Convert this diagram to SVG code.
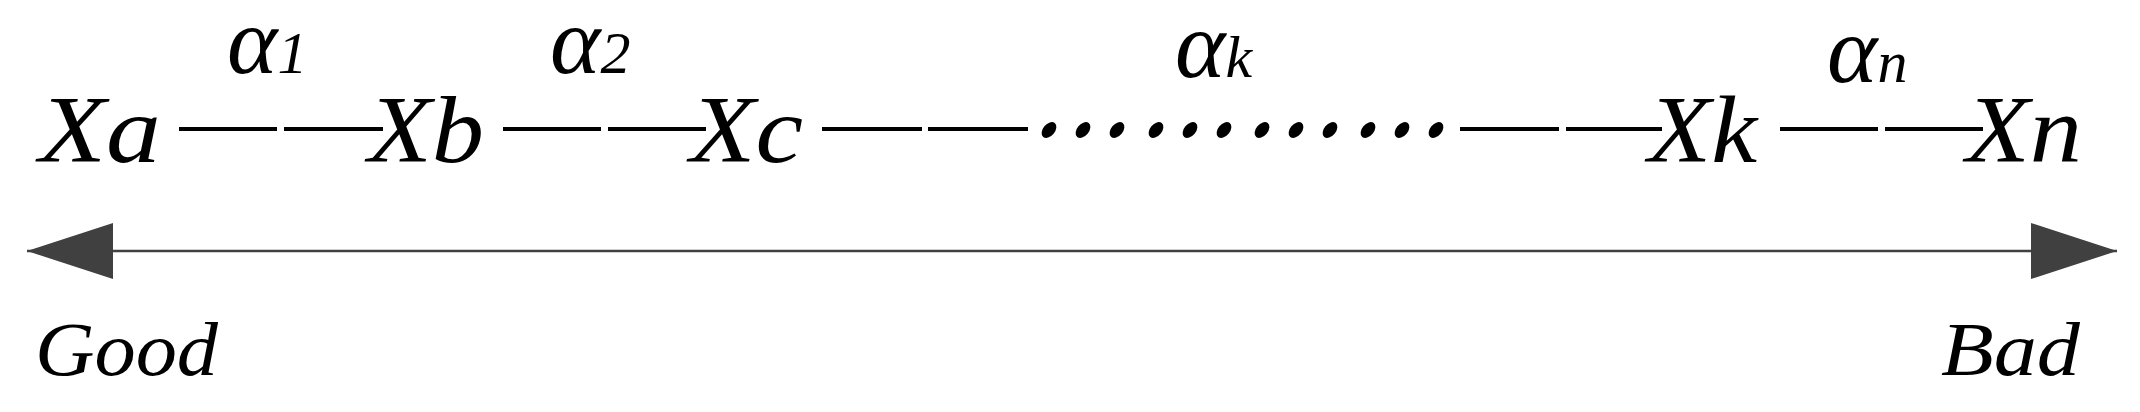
<svg xmlns="http://www.w3.org/2000/svg" width="2140" height="412" viewBox="0 0 2140 412">
<style>
.t{font-family:"Liberation Serif","Times New Roman",serif;font-style:italic;fill:#000}
.x{font-size:96px}
.a{font-size:96px}
.s{font-size:60px}
.e{font-size:76px}
.d{stroke:#000;stroke-width:4;fill:none}
.dot{fill:#000}
.ax{stroke:#404040;stroke-width:2.5;fill:none}
</style>
<defs>
<marker id="ah" markerUnits="userSpaceOnUse" markerWidth="86" markerHeight="56" viewBox="0 0 86 56" refX="86" refY="28" orient="auto-start-reverse">
<path d="M0,0 L86,28 L0,56 Z" fill="#404040"/>
</marker>
<ellipse id="dt" cx="0" cy="0" rx="9" ry="6" transform="rotate(-50)"/>
</defs>
<g id="connectors">
<line class="d" x1="179" y1="129" x2="277" y2="129"/>
<line class="d" x1="284" y1="129" x2="383" y2="129"/>
<line class="d" x1="503" y1="129" x2="601" y2="129"/>
<line class="d" x1="608" y1="129" x2="706" y2="129"/>
<line class="d" x1="822" y1="129" x2="922" y2="129"/>
<line class="d" x1="928" y1="129" x2="1028" y2="129"/>
<line class="d" x1="1460" y1="129" x2="1559" y2="129"/>
<line class="d" x1="1566" y1="129" x2="1662" y2="129"/>
<line class="d" x1="1780" y1="129" x2="1878" y2="129"/>
<line class="d" x1="1885" y1="129" x2="1983" y2="129"/>
<g class="dot">
<use href="#dt" x="1049" y="130"/>
<use href="#dt" x="1083" y="130"/>
<use href="#dt" x="1117" y="130"/>
<use href="#dt" x="1156" y="130"/>
<use href="#dt" x="1190" y="130"/>
<use href="#dt" x="1224" y="130"/>
<use href="#dt" x="1262" y="130"/>
<use href="#dt" x="1296" y="130"/>
<use href="#dt" x="1330" y="130"/>
<use href="#dt" x="1368" y="130"/>
<use href="#dt" x="1402" y="130"/>
<use href="#dt" x="1436" y="130"/>
</g>
<line class="ax" x1="27" y1="251" x2="2117" y2="251" marker-start="url(#ah)" marker-end="url(#ah)"/>
</g>
<g id="Xa"><text class="t x" x="39" y="162" textLength="122" lengthAdjust="spacingAndGlyphs">Xa</text></g>
<g id="Xb"><text class="t x" x="368" y="162" textLength="116" lengthAdjust="spacingAndGlyphs">Xb</text></g>
<g id="Xc"><text class="t x" x="690" y="162" textLength="113" lengthAdjust="spacingAndGlyphs">Xc</text></g>
<g id="Xk"><text class="t x" x="1648" y="162" textLength="109" lengthAdjust="spacingAndGlyphs">Xk</text></g>
<g id="Xn"><text class="t x" x="1966" y="162" textLength="116" lengthAdjust="spacingAndGlyphs">Xn</text></g>
<g id="alpha1"><text class="t a" x="227" y="73">α<tspan class="s">1</tspan></text></g>
<g id="alpha2"><text class="t a" x="550" y="73">α<tspan class="s">2</tspan></text></g>
<g id="alphak"><text class="t a" x="1175" y="77">α<tspan class="s">k</tspan></text></g>
<g id="alphan"><text class="t a" x="1827" y="82">α<tspan class="s">n</tspan></text></g>
<g id="good"><text class="t e" x="35" y="375" textLength="183" lengthAdjust="spacingAndGlyphs">Good</text></g>
<g id="bad"><text class="t e" x="1941" y="375" textLength="139" lengthAdjust="spacingAndGlyphs">Bad</text></g>
</svg>
